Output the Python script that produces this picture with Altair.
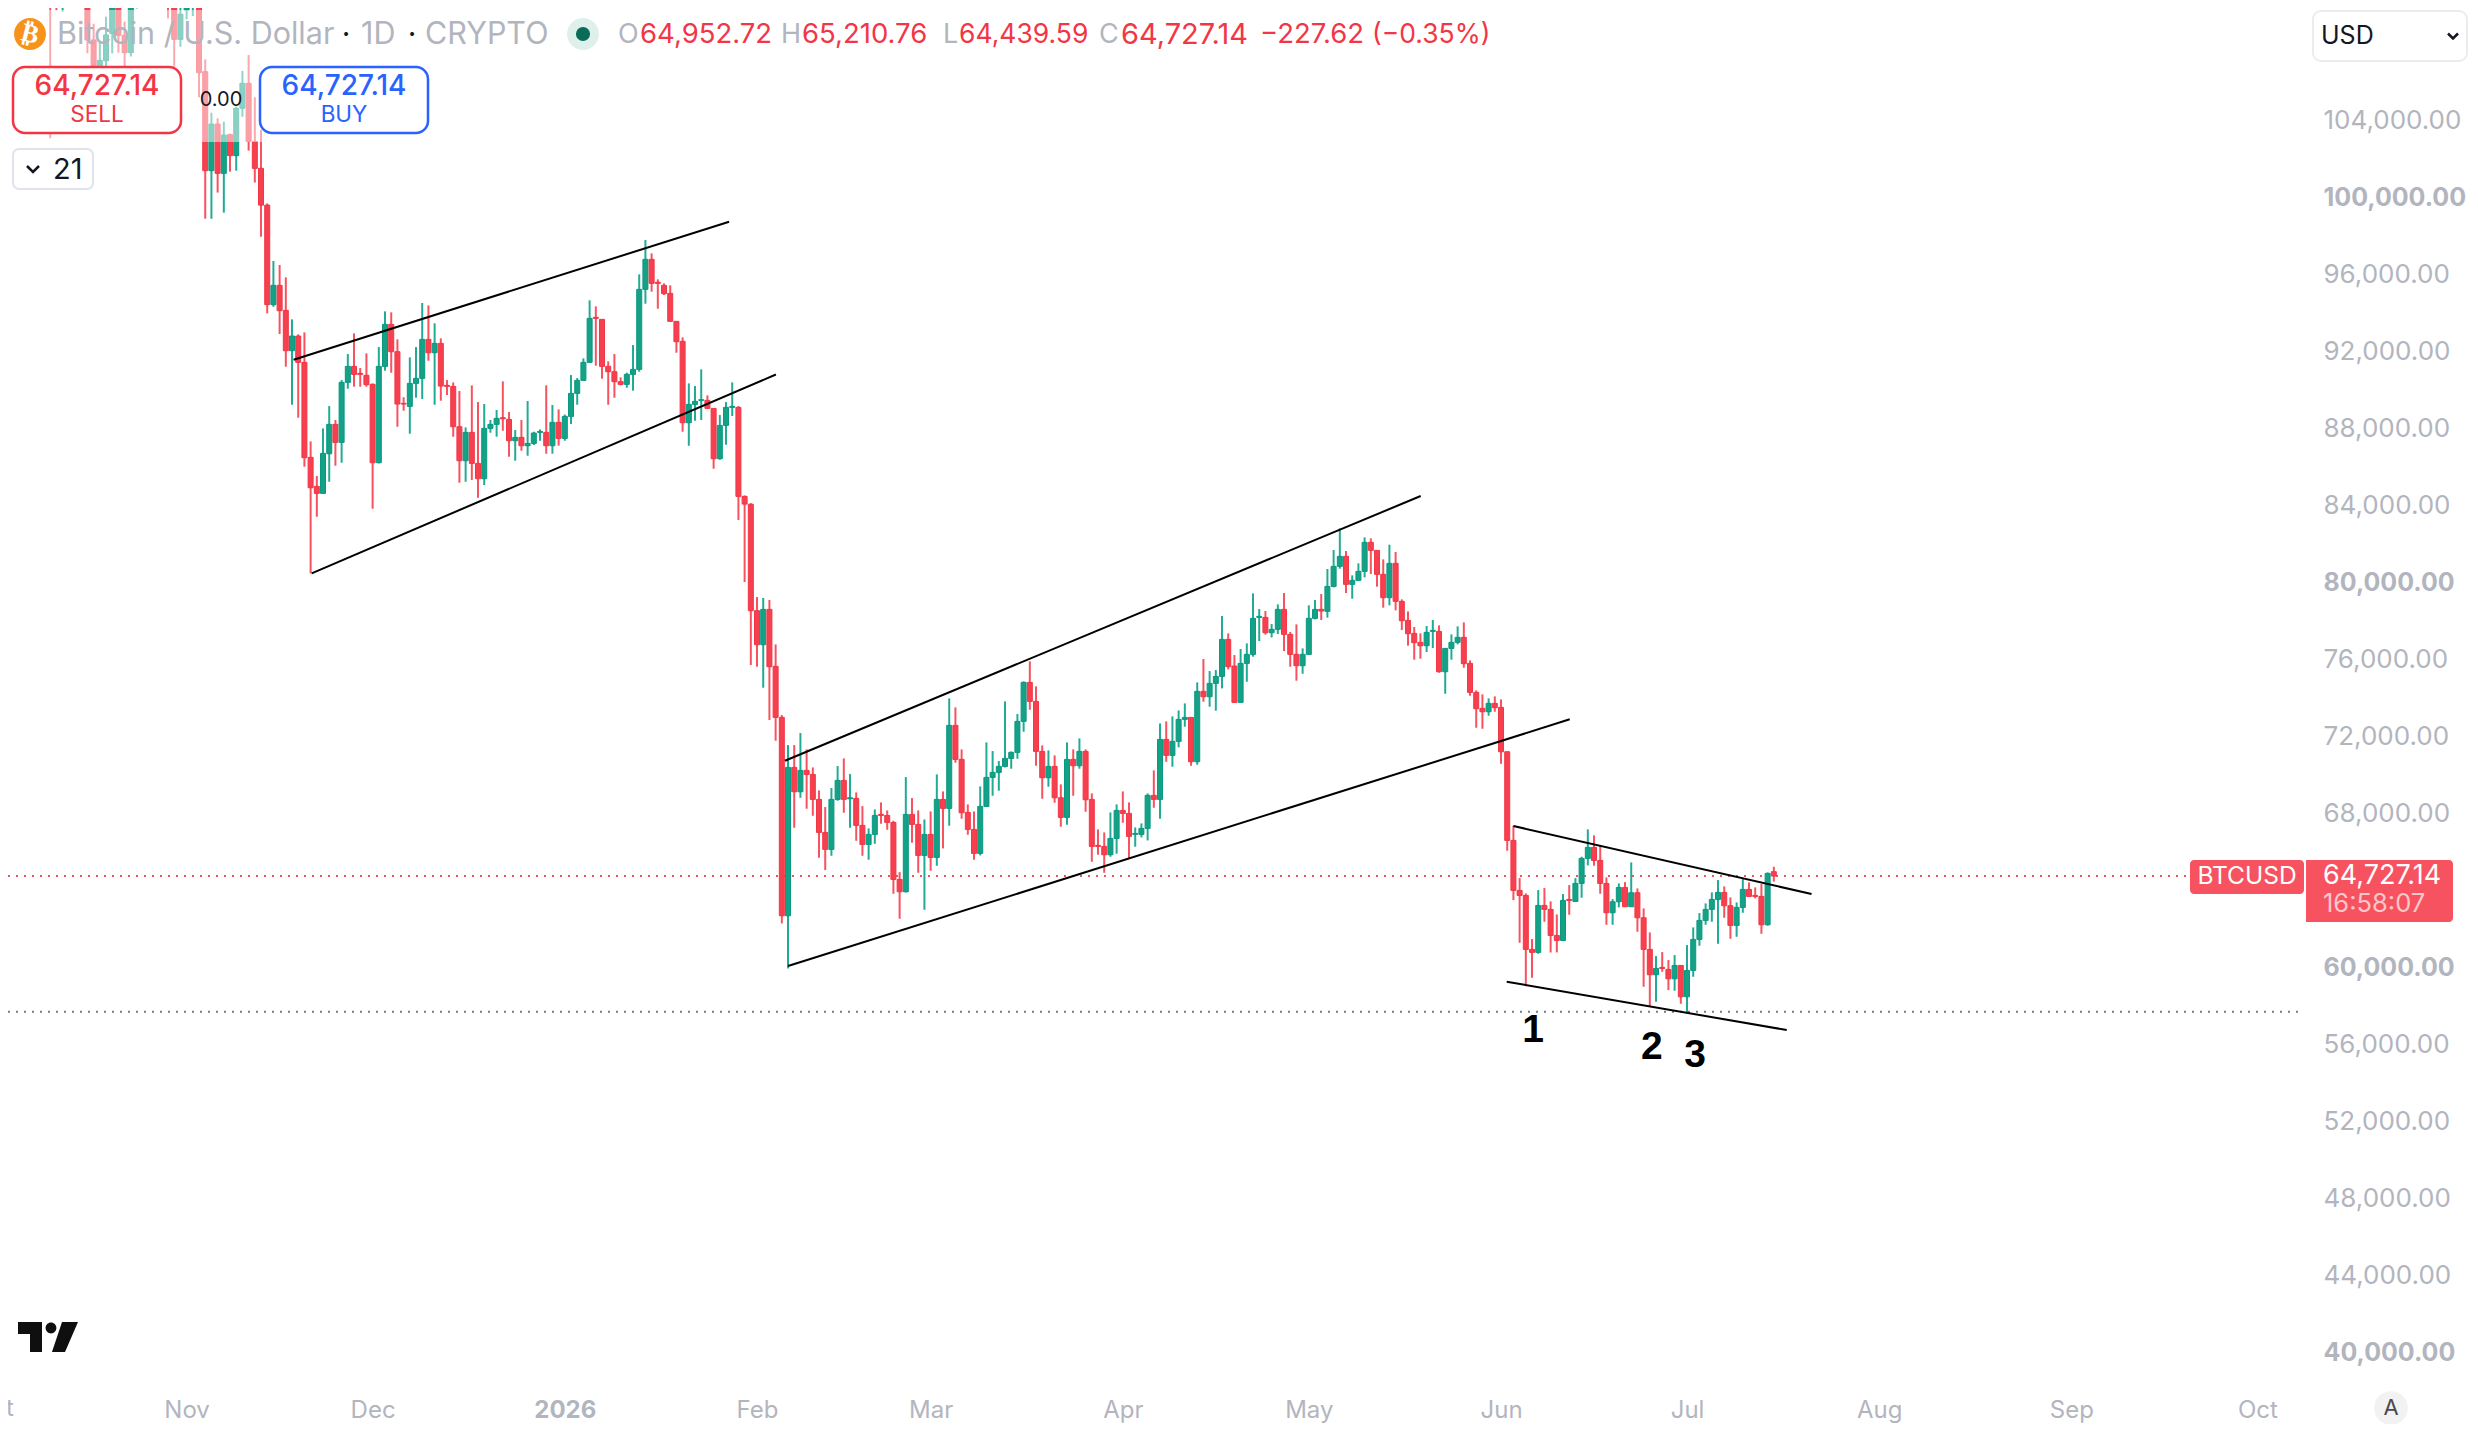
import altair as alt
import pandas as pd

FONT = "Inter"
UP_WICK, UP_FILL, UP_EDGE = "#22ab94", "#15a186", "#089981"
DN_WICK, DN_FILL, DN_EDGE = "#f7525f", "#f6404f", "#f23645"
GREY = "#b2b5be"

START = "2025-10-10"
opens = [
 121500,113000,110800,115000,115300,113000,111100,108160,106800,107080,108500,110500,108400,107500,109980,111000,111600,114500,114100,112900,109920,108190,
 109716,109976,110500,106510,101370,103790,101230,103240,102150,104610,105910,102890,101490,99580,94408,95412,94113,92017,92780,91411,86475,84968,84604,86665,88190,87254,90372,91203,90840,90736,
 90268,86198,91203,93386,91965,89281,89125,90320,90580,92606,91913,92398,90216,90164,88068,86302,87774,86163,85367,87982,88190,88536,88450,87341,87514,87081,87202,87774,87774,87081,88294,
 87462,88605,89800,90476,91411,93749,93645,91203,90926,90407,90268,90788,91048,95204,96763,95568,95412,94996,93542,92502,88276,89229,89437,89437,89021,86406,88138,89073,89073,84449,84040,
 78511,76744,78580,75618,72968,62663,70370,69106,70215,70007,68708,66993,66110,68708,69695,68742,68760,67357,66369,66889,67928,67876,67513,64551,63910,67928,67409,65798,
 66889,65694,68708,68240,72553,70786,68032,67149,65902,68344,69851,70111,70422,70838,71150,72761,74787,73800,71202,69833,70422,68794,67772,70786,70457,71202,68708,66318,66266,65833,66681,
 68136,67980,66889,66889,67201,68916,68708,71825,70994,71721,72864,72968,70665,74319,74042,74735,75099,77021,75636,73748,75774,76242,78164,78164,77368,77541,78580,77281,76242,75653,
 76242,78112,78580,78476,79775,80814,81334,79879,80087,80554,82061,81646,80399,79186,80970,78996,78008,77333,76865,76692,77437,77437,75341,76554,76865,77125,75774,74267,73436,73263,73696,
 73488,71184,66578,63980,63720,60915,60759,63201,62993,61642,61382,63513,63409,64344,65643,66215,65539,64344,62820,63391,64136,63132,63859,62560,60915,59598,59979,59876,59391,60083,
 58455,59824,61434,62422,62993,63513,63877,63184,62161,63097,64032,63720,63668,62196,64952.72,
]
highs = [
 122500,113500,115500,116000,115400,113600,111700,109000,108000,109370,111500,114000,109110,111300,112000,111900,115000,116300,116000,113500,111000,110300,
 110400,110800,110700,107150,104380,104090,103910,103300,104700,106550,107380,105180,103500,99670,96676,96469,95828,93645,92866,92970,87306,85505,87982,89142,88415,90493,91844,92918,91117,91879,
 90320,92208,94061,94009,92606,89600,91671,92208,94494,94373,93438,92658,90493,90372,89922,88034,90216,89350,89246,88415,88935,90424,88830,87895,88415,89402,87809,87930,90216,89194,88969,
 88700,90753,90597,91619,94633,94321,93645,91463,91844,90632,90874,92312,95984,97768,97075,95724,95516,95412,93542,92710,90320,90181,91048,89697,89021,88675,89350,90372,89142,84500,84100,
 79221,79169,79065,76761,73090,71531,71531,72154,71306,70370,69175,68309,69297,70440,70838,70024,69071,68361,67201,68188,68552,68136,67599,64932,69868,68777,68136,67668,
 68084,70007,69123,73956,73488,71306,68448,68084,69383,71669,71219,70700,73800,71202,73142,74839,75878,74579,71513,71254,70994,69487,71669,71306,71877,71306,69019,67149,66993,68032,68448,
 69123,68552,67253,67461,69019,70215,72657,72761,73020,73332,73696,72968,74787,76000,75376,75428,78234,77333,76207,76519,76813,79411,78597,78493,77818,78840,79429,77402,77801,76554,
 78788,79065,79377,80676,81663,82789,81611,80347,80970,82321,82269,81646,81178,81940,81559,79100,78476,77662,77333,77714,78026,77749,76554,77281,77697,77905,75930,74371,74163,73956,74060,
 73904,71184,67340,64621,63824,61452,63998,64102,63409,62733,63790,64258,64621,65730,67150,66838,66284,64656,63530,64344,64413,65435,64084,63045,61798,60568,60776,60361,60620,60083,
 61140,62058,62803,63305,63877,64517,64188,63617,63357,64569,64396,64136,64309,64916,65210.76,
]
lows = [
 103050,109700,109630,113000,109890,110300,107470,103700,106000,106250,107460,107500,106770,107300,109800,110800,111300,113800,112000,109280,106770,107800,
 109230,109400,105180,98874,98870,100230,99190,101320,101370,104170,102410,100750,97940,93957,94300,92883,91186,89212,88536,85990,80448,83392,84604,85211,86042,86198,90043,90147,90147,90147,
 83808,86164,90978,90874,88068,88900,87705,89575,89506,91498,89212,89419,89714,87549,85159,85211,85297,84379,85037,87757,87549,87860,86510,86302,86821,86562,87116,87341,86665,86665,87081,
 87341,88207,89212,90476,91411,91238,90562,89212,89575,90216,90095,89939,90926,94459,95083,94200,94910,93542,91913,87809,87081,88380,88415,88987,85886,86354,87133,88623,83219,80002,75690,
 75601,74510,72830,71756,62265,59927,67235,68794,68223,67859,65677,65036,65780,68638,68015,67235,66560,65780,65573,66404,67443,67132,63806,62507,63875,66456,64897,62975,
 65001,65261,66162,67340,70613,67703,66872,65573,65798,68327,68898,69158,70370,70301,70821,72224,73367,70457,68742,69366,68535,67288,67391,68898,70301,68067,65469,65833,64897,65729,65885,
 67495,65642,66248,66733,66577,68275,67703,70665,70405,71410,72483,70457,70509,73782,73523,73315,74475,75462,73748,73748,74822,76121,76935,77264,77125,77298,76415,75601,74874,75237,
 76242,78060,78026,78147,79723,80693,79429,79134,80087,80243,80416,79758,78667,78788,78528,77506,76692,75965,76017,76363,76571,75289,74198,75965,76761,75549,74094,72431,72380,73055,73263,
 70561,66040,63478,61261,59009,59442,60690,62352,60759,60759,61382,62716,63409,63599,65279,65262,63807,62196,62196,63097,63132,63132,61833,58975,57970,58196,59754,58802,58767,58092,
 57624,59494,61105,62196,62352,61209,62560,61469,61573,62820,63651,63565,61729,62144,64439.59,
]
closes = [
 113000,110800,115000,115300,113000,111100,108160,106800,107100,108420,110500,108400,107500,109980,111000,111600,114500,114100,112900,109920,108190,109500,
 109976,110500,106460,101370,103790,101230,103220,102150,104610,105910,102890,101490,99580,94410,95412,94096,92017,92780,91411,86458,84899,84604,86683,88190,87254,90372,91203,90788,90788,90251,
 86198,91203,93386,91965,89246,89246,90320,90580,92606,91913,92398,90181,90164,88068,86302,87774,86163,85367,87982,88190,88501,88484,87341,87514,87081,87202,87739,87826,87081,88294,87462,
 88605,89800,90476,91411,93697,93697,91203,90926,90407,90268,90788,91048,95204,96763,95516,95516,94979,93542,92485,88276,89229,89385,89471,89021,86406,88138,89073,89125,84449,84050,78510,
 76744,78580,75601,72968,62663,70370,69106,70215,70007,68708,66993,66110,68708,69695,68708,68794,67357,66369,66889,67876,67876,67513,64551,63910,67928,67409,65798,66889,
 65694,68708,68240,72553,70786,68015,67149,65902,68344,69851,70111,70422,70838,71150,72761,74787,73800,71202,69833,70422,68794,67772,70786,70457,71202,68690,66266,66266,65833,66681,68136,
 67980,66785,66941,67201,68916,68708,71825,70994,71721,72864,72968,70665,74319,74042,74735,75099,77021,75601,73748,75774,76242,78112,78216,77368,77541,78580,77281,76242,75653,76242,
 78112,78580,78493,79775,80814,81334,79879,80087,80554,82061,81646,80399,79186,80970,78996,77991,77316,76848,76692,77385,77489,75341,76554,76865,77125,75757,74267,73419,73263,73696,73471,
 71184,66578,63980,63720,60915,60759,63201,62993,61642,61382,63461,63461,64344,65643,66215,65539,64344,62820,63391,64136,63132,63859,62560,60915,59598,59927,59927,59391,60083,58455,
 59824,61434,62422,62993,63513,63877,63184,62161,63097,64032,63668,63668,62196,64864,64727.14,
]

trend_segments = [
 ("upper1", "2025-11-18T06:00:00Z", 91549), ("upper1", "2026-01-27T12:00:00Z", 98719),
 ("lower1", "2025-11-21T04:00:00Z", 80452), ("lower1", "2026-02-04T01:00:00Z", 90780),
 ("upper2", "2026-02-05T12:00:00Z", 70717), ("upper2", "2026-05-19T01:00:00Z", 84468),
 ("lower2", "2026-02-06T00:00:00Z", 60052), ("lower2", "2026-06-12T02:00:00Z", 72868),
 ("upper3", "2026-06-03T00:00:00Z", 67325), ("upper3", "2026-07-21T02:00:00Z", 63792),
 ("lower3", "2026-06-01T22:00:00Z", 59236), ("lower3", "2026-07-17T02:00:00Z", 56727),
]
notes = [("1", "2026-06-06T04:00:00Z", 56727), ("2", "2026-06-25T08:00:00Z", 55844), ("3", "2026-07-02T07:00:00Z", 55428)]

LAST_PRICE = 64727.14
SUPPORT = 57678
price_ticks = list(range(40000, 108000, 4000))
month_ticks = [(2025, 11), (2025, 12), (2026, 1), (2026, 2), (2026, 3), (2026, 4), (2026, 5),
               (2026, 6), (2026, 7), (2026, 8), (2026, 9), (2026, 10)]

dates = [d.strftime("%Y-%m-%dT00:00:00Z") for d in pd.date_range(START, periods=len(opens))]
candles = pd.DataFrame({"date": dates, "open": opens, "high": highs, "low": lows, "close": closes})
candles["dir"] = ["up" if c >= o else "down" for o, c in zip(opens, closes)]
trends = pd.DataFrame(trend_segments, columns=["seg", "date", "price"])
note_df = pd.DataFrame(notes, columns=["t", "date", "price"])

PLOT_W, PLOT_H = 2294, 1372
x_scale = alt.Scale(type="utc", nice=False, padding=0, domain=[
    alt.DateTime(year=2025, month=10, date=3, hours=4, minutes=34, utc=True),
    alt.DateTime(year=2026, month=10, date=8, hours=4, minutes=34, utc=True)])
y_scale = alt.Scale(domain=[38547, 109820], nice=False, zero=False, padding=0)
x_axis = alt.Axis(
    values=[alt.DateTime(year=y, month=m, date=1, utc=True) for y, m in month_ticks],
    labelExpr="utcmonth(datum.value) == 0 ? utcFormat(datum.value, '%Y') : utcFormat(datum.value, '%b')",
    labelFontWeight=alt.condition("utcmonth(datum.value) == 0", alt.value("bold"), alt.value("normal")),
    labelColor=GREY, labelFont=FONT, labelFontSize=24, labelPadding=18, ticks=False, domain=False, grid=False,
    title=None, labelOverlap=False, labelFlush=False, labelBound=False)
y_axis = alt.Axis(
    values=price_ticks, format=",.2f", orient="right",
    labelFontWeight=alt.condition("datum.value % 20000 == 0", alt.value("bold"), alt.value("normal")),
    labelFontSize=alt.condition("datum.value % 20000 == 0", alt.value(25), alt.value(26)),
    labelColor=GREY, labelFont=FONT, labelPadding=21, labelAlign="left", ticks=False, domain=False,
    grid=False, title=None, labelOverlap=False, labelBound=False, labelFlush=False)

X = alt.X("date:T", scale=x_scale, axis=x_axis, title=None)
def Y(field):
    return alt.Y(field, type="quantitative", scale=y_scale, axis=y_axis, title=None)

DIRS = ["up", "down"]
wicks = alt.Chart(candles).mark_rule(strokeWidth=2, clip=True).encode(
    x=X, y=Y("low"), y2="high:Q",
    color=alt.Color("dir:N", scale=alt.Scale(domain=DIRS, range=[UP_WICK, DN_WICK]), legend=None))
bodies = alt.Chart(candles).mark_bar(size=5, strokeWidth=1, clip=True, opacity=1).encode(
    x=X, y=Y("open"), y2="close:Q",
    fill=alt.Fill("dir:N", scale=alt.Scale(domain=DIRS, range=[UP_FILL, DN_FILL]), legend=None),
    stroke=alt.Stroke("dir:N", scale=alt.Scale(domain=DIRS, range=[UP_EDGE, DN_EDGE]), legend=None))
lines = alt.Chart(trends).mark_line(color="#000000", strokeWidth=2, clip=True).encode(x=X, y=Y("price"), detail="seg:N")
note_marks = alt.Chart(note_df).mark_text(fontSize=39, fontWeight="bold", font="Liberation Sans", color="#000000").encode(x=X, y=Y("price"), text="t:N")


def value_rule(price, x2, color):
    return alt.Chart(alt.Data(values=[{"price": price}])).mark_rule(
        color=color, strokeWidth=2, strokeDash=[2, 6]).encode(y=Y("price"), x=alt.value(0), x2=alt.value(x2))


def label(text, x, y, size, color, weight="normal", align="left", font=FONT, **kw):
    return alt.Chart(alt.Data(values=[{"t": text}])).mark_text(
        align=align, baseline="middle", fontSize=size, font=font, fontWeight=weight, color=color, **kw
    ).encode(x=alt.value(x - 8), y=alt.value(y - 8), text="t:N")


def box(x1, x2, y1, y2, fill="#ffffff", stroke=None, sw=0, radius=0, opacity=1, **kw):
    args = dict(fill=fill, cornerRadius=radius, opacity=opacity, **kw)
    if stroke:
        args.update(stroke=stroke, strokeWidth=sw)
    return alt.Chart(alt.Data(values=[{"a": 1}])).mark_rect(**args).encode(
        x=alt.value(x1 - 8), x2=alt.value(x2 - 8), y=alt.value(y1 - 8), y2=alt.value(y2 - 8))


def symbol(x, y, size, color, shape="circle", filled=True, sw=0):
    return alt.Chart(alt.Data(values=[{"a": 1}])).mark_point(
        shape=shape, size=size, filled=filled, color=color, opacity=1, strokeWidth=sw
    ).encode(x=alt.value(x - 8), y=alt.value(y - 8))


CHEVRON = "M-1,-0.5 L0,0.5 L1,-0.5"
LOGO = ("M-1,-0.5 L-0.2,-0.5 L-0.2,0.5 L-0.6,0.5 L-0.6,-0.1 L-1,-0.1 Z "
        "M0.467,-0.5 L1,-0.5 L0.567,0.5 L0.133,0.5 Z "
        "M-0.08,-0.3 A0.18,0.18 0 1 1 0.28,-0.3 A0.18,0.18 0 1 1 -0.08,-0.3 Z")

RED = "#f23645"
layers = [
    value_rule(LAST_PRICE, 2180, DN_WICK),
    value_rule(SUPPORT, 2292, "#787b86"),
    wicks, bodies, lines, note_marks,
    box(8, 266, 10, 142, opacity=0.5),
    symbol(30, 34, 1018, "#f7931a"),
    label("₿", 30, 34, 26, "#ffffff", weight="bold", align="center", font="DejaVu Sans", angle=14),
    label("Bitcoin / U.S. Dollar", 57, 35, 30.5, GREY),
    label("·", 346, 35, 30, "#131722", align="center"),
    label("1D", 361, 35, 30.5, GREY),
    label("·", 412, 35, 30, "#131722", align="center"),
    label("CRYPTO", 425, 35, 30.5, GREY),
    symbol(583, 34, 1018, "#dff0ec"),
    symbol(583, 34, 200, "#0a6b58"),
    label("O", 618, 35, 27, GREY), label("64,952.72", 640, 35, 27.5, RED),
    label("H", 781, 35, 27, GREY), label("65,210.76", 802, 35, 27.5, RED),
    label("L", 943, 35, 27, GREY), label("64,439.59", 959, 35, 26.5, RED),
    label("C", 1099, 35, 27, GREY), label("64,727.14", 1121, 35, 29, RED),
    label("−227.62", 1260, 35, 27.5, RED), label("(−0.35%)", 1372, 35, 26.5, RED),
    box(13, 181, 67, 133, stroke=RED, sw=2.5, radius=12),
    label("64,727.14", 97, 87, 28, RED, weight=500, align="center"),
    label("SELL", 97, 115, 22.5, RED, align="center"),
    box(260, 428, 67, 133, stroke="#2962ff", sw=2.5, radius=12),
    label("64,727.14", 344, 87, 28, "#2962ff", weight=500, align="center"),
    label("BUY", 344, 115, 22.5, "#2962ff", align="center"),
    label("0.00", 221, 100, 20, "#131722", align="center"),
    box(13, 93, 149, 189, stroke="#e0e3eb", sw=2, radius=6),
    symbol(33, 169, 144, "#131722", shape=CHEVRON, filled=False, sw=2.5),
    label("21", 53, 170, 29, "#131722"),
    box(2313, 2467, 11, 61, stroke="#ececec", sw=2, radius=8),
    label("USD", 2321, 36, 25, "#131722"),
    symbol(2453, 36, 100, "#131722", shape=CHEVRON, filled=False, sw=2.5),
    box(2190, 2304, 860, 894, fill=DN_WICK, radius=4),
    label("BTCUSD", 2247, 877, 24.5, "#ffffff", align="center"),
    box(2306, 2453, 860, 922, fill=DN_WICK, cornerRadiusTopRight=4, cornerRadiusBottomRight=4),
    label("64,727.14", 2323, 876, 27, "#ffffff"),
    label("16:58:07", 2323, 904, 25.5, "#fbc6ca"),
    symbol(48, 1337, 3600, "#0f0f0f", shape=LOGO),
    label("Oct", -6, 1409, 24, GREY, align="center"),
    symbol(2391, 1408, 1134, "#f2f2f2"),
    label("A", 2391, 1408, 22, "#4a4a4a", align="center"),
]

chart = alt.layer(*layers).properties(
    width=PLOT_W, height=PLOT_H,
    autosize=alt.AutoSizeParams(type="none"),
    padding={"left": 0, "top": 0, "right": 168, "bottom": 44},
    background="#ffffff",
).configure_view(stroke=None)

chart.save("out.html", embed_options={"renderer": "svg", "actions": False})
